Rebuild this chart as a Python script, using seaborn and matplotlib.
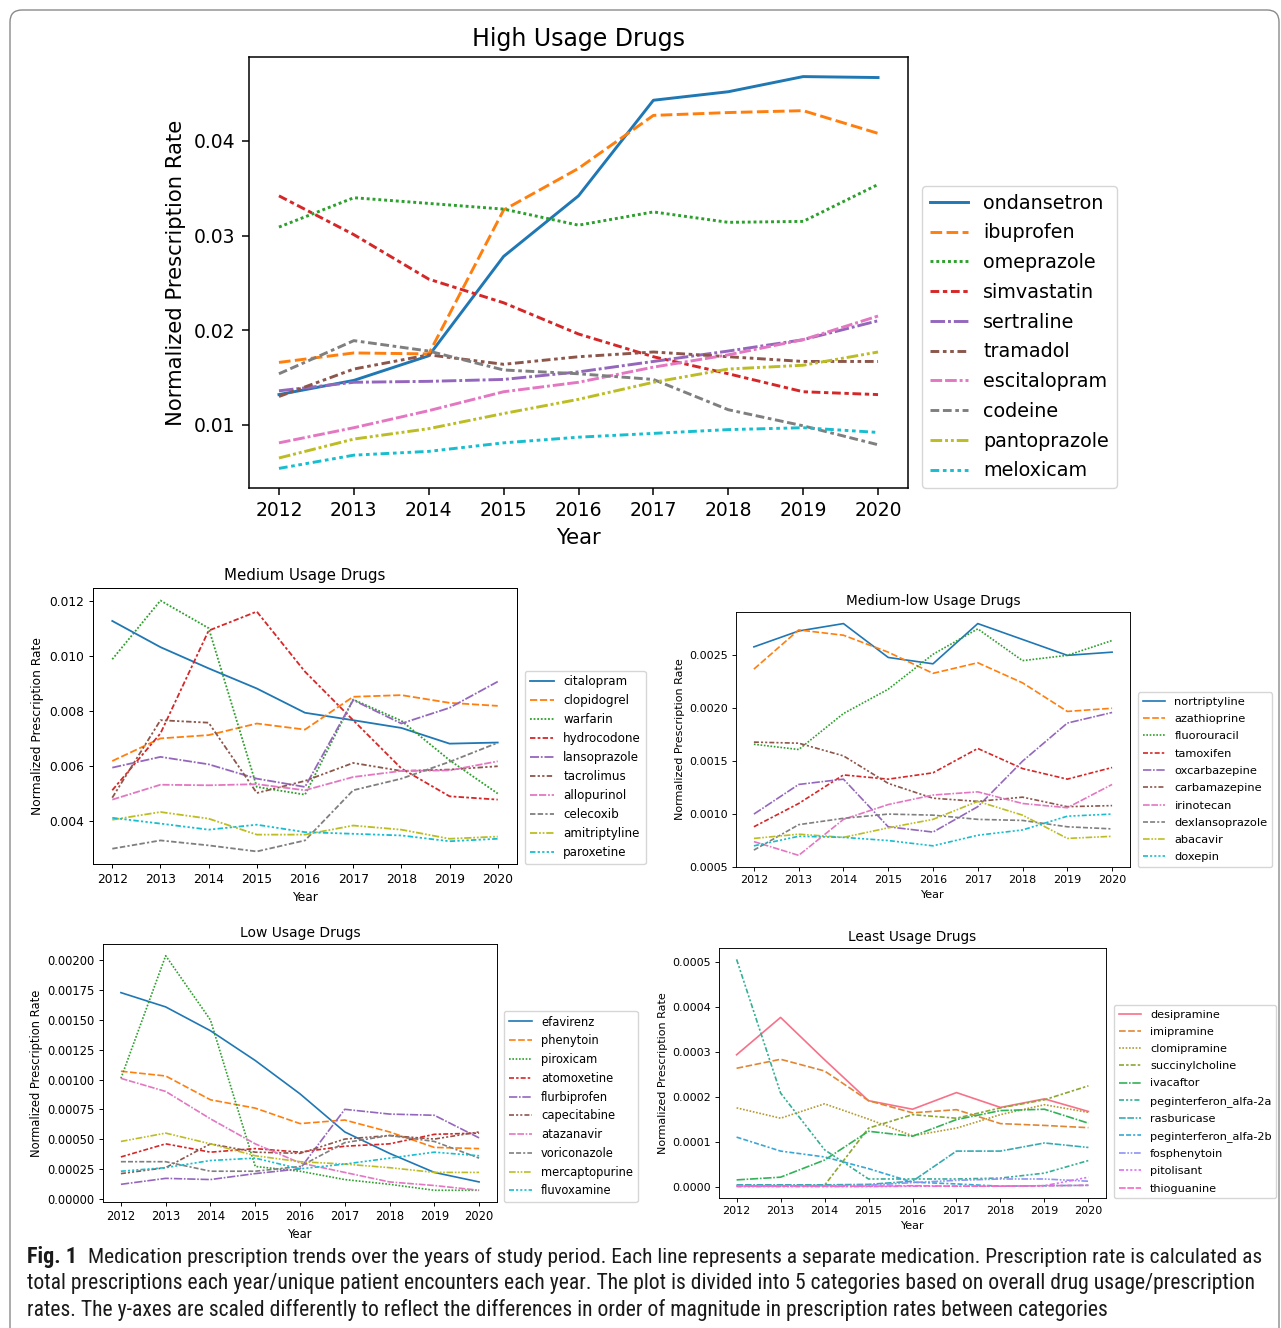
#Figure 1: prescription trends for five usage groups, drawn with seaborn line plots
import pandas as pd
import matplotlib
matplotlib.use("Agg")
from matplotlib import pyplot as plt
from matplotlib.patches import FancyBboxPatch
from matplotlib import font_manager
import seaborn as sns

#years on the x axis
years = [2012, 2013, 2014, 2015, 2016, 2017, 2018, 2019, 2020]

#high usage drugs
high_drugs = ['ondansetron', 'ibuprofen', 'omeprazole', 'simvastatin', 'sertraline',
              'tramadol', 'escitalopram', 'codeine', 'pantoprazole', 'meloxicam']
high_rates = [
    [0.0132, 0.0147, 0.0173, 0.0278, 0.0342, 0.0443, 0.0452, 0.0468, 0.0467],
    [0.0166, 0.0176, 0.0175, 0.0327, 0.0371, 0.0427, 0.0430, 0.0432, 0.0408],
    [0.0309, 0.0340, 0.0334, 0.0328, 0.0311, 0.0325, 0.0314, 0.0315, 0.0354],
    [0.0342, 0.0301, 0.0254, 0.0229, 0.0196, 0.0172, 0.0154, 0.0135, 0.0132],
    [0.0136, 0.0145, 0.0146, 0.0148, 0.0156, 0.0167, 0.0178, 0.0190, 0.0210],
    [0.0130, 0.0159, 0.0174, 0.0164, 0.0172, 0.0177, 0.0172, 0.0167, 0.0167],
    [0.0081, 0.0097, 0.0115, 0.0135, 0.0145, 0.0161, 0.0174, 0.0190, 0.0215],
    [0.0154, 0.0189, 0.0178, 0.0158, 0.0154, 0.0148, 0.0116, 0.0099, 0.0079],
    [0.0065, 0.0085, 0.0096, 0.0112, 0.0127, 0.0145, 0.0159, 0.0163, 0.0177],
    [0.0054, 0.0068, 0.0072, 0.0081, 0.0087, 0.0091, 0.0095, 0.0097, 0.0092],
]

#medium usage drugs
medium_drugs = ['citalopram', 'clopidogrel', 'warfarin', 'hydrocodone', 'lansoprazole',
                'tacrolimus', 'allopurinol', 'celecoxib', 'amitriptyline', 'paroxetine']
medium_rates = [
    [0.01127, 0.01032, 0.00955, 0.00882, 0.00794, 0.00767, 0.00739, 0.00682, 0.00686],
    [0.00619, 0.00701, 0.00713, 0.00755, 0.00733, 0.00852, 0.00858, 0.00830, 0.00819],
    [0.00988, 0.01201, 0.01101, 0.00525, 0.00497, 0.00842, 0.00765, 0.00622, 0.00501],
    [0.00513, 0.00719, 0.01092, 0.01161, 0.00943, 0.00767, 0.00592, 0.00491, 0.00479],
    [0.00595, 0.00634, 0.00607, 0.00555, 0.00525, 0.00840, 0.00755, 0.00812, 0.00907],
    [0.00486, 0.00767, 0.00758, 0.00503, 0.00547, 0.00612, 0.00583, 0.00588, 0.00600],
    [0.00479, 0.00533, 0.00531, 0.00535, 0.00513, 0.00561, 0.00583, 0.00585, 0.00618],
    [0.00301, 0.00331, 0.00313, 0.00291, 0.00331, 0.00513, 0.00555, 0.00616, 0.00685],
    [0.00406, 0.00434, 0.00410, 0.00352, 0.00352, 0.00385, 0.00370, 0.00337, 0.00345],
    [0.00413, 0.00392, 0.00370, 0.00388, 0.00361, 0.00355, 0.00349, 0.00328, 0.00337],
]

#medium-low usage drugs
medlow_drugs = ['nortriptyline', 'azathioprine', 'fluorouracil', 'tamoxifen', 'oxcarbazepine',
                'carbamazepine', 'irinotecan', 'dexlansoprazole', 'abacavir', 'doxepin']
medlow_rates = [
    [0.00258, 0.00273, 0.00280, 0.00248, 0.00242, 0.00280, 0.00265, 0.00250, 0.00253],
    [0.00237, 0.00274, 0.00269, 0.00253, 0.00233, 0.00243, 0.00224, 0.00197, 0.00200],
    [0.00166, 0.00161, 0.00195, 0.00218, 0.00251, 0.00275, 0.00245, 0.00250, 0.00264],
    [0.00088, 0.00110, 0.00137, 0.00133, 0.00139, 0.00162, 0.00143, 0.00133, 0.00144],
    [0.00100, 0.00128, 0.00133, 0.00088, 0.00083, 0.00107, 0.00150, 0.00186, 0.00196],
    [0.00168, 0.00167, 0.00155, 0.00129, 0.00115, 0.00112, 0.00116, 0.00107, 0.00108],
    [0.00074, 0.00061, 0.00095, 0.00109, 0.00118, 0.00121, 0.00110, 0.00106, 0.00128],
    [0.00066, 0.00090, 0.00096, 0.00100, 0.00099, 0.00095, 0.00094, 0.00088, 0.00086],
    [0.00077, 0.00081, 0.00078, 0.00087, 0.00095, 0.00112, 0.00099, 0.00077, 0.00079],
    [0.00070, 0.00079, 0.00078, 0.00075, 0.00070, 0.00080, 0.00085, 0.00098, 0.00100],
]

#low usage drugs
low_drugs = ['efavirenz', 'phenytoin', 'piroxicam', 'atomoxetine', 'flurbiprofen',
             'capecitabine', 'atazanavir', 'voriconazole', 'mercaptopurine', 'fluvoxamine']
low_rates = [
    [0.00173, 0.00161, 0.00141, 0.00116, 0.00088, 0.00056, 0.00038, 0.00022, 0.00014],
    [0.00107, 0.00103, 0.00083, 0.00076, 0.00063, 0.00066, 0.00056, 0.00043, 0.00042],
    [0.00101, 0.00204, 0.00150, 0.00027, 0.00023, 0.00016, 0.00012, 0.00007, 0.00007],
    [0.00035, 0.00046, 0.00039, 0.00042, 0.00039, 0.00044, 0.00046, 0.00054, 0.00055],
    [0.00012, 0.00017, 0.00016, 0.00021, 0.00025, 0.00075, 0.00071, 0.00070, 0.00051],
    [0.00021, 0.00026, 0.00046, 0.00039, 0.00038, 0.00050, 0.00053, 0.00050, 0.00056],
    [0.00101, 0.00090, 0.00067, 0.00046, 0.00030, 0.00022, 0.00014, 0.00011, 0.00007],
    [0.00031, 0.00031, 0.00023, 0.00023, 0.00027, 0.00047, 0.00053, 0.00048, 0.00034],
    [0.00048, 0.00055, 0.00046, 0.00036, 0.00031, 0.00029, 0.00026, 0.00022, 0.00022],
    [0.00023, 0.00026, 0.00032, 0.00034, 0.00025, 0.00029, 0.00034, 0.00039, 0.00036],
]

#least usage drugs
least_drugs = ['desipramine', 'imipramine', 'clomipramine', 'succinylcholine', 'ivacaftor',
               'peginterferon_alfa-2a', 'rasburicase', 'peginterferon_alfa-2b',
               'fosphenytoin', 'pitolisant', 'thioguanine']
least_rates = [
    [0.000294, 0.000377, 0.000283, 0.000192, 0.000173, 0.000210, 0.000177, 0.000196, 0.000168],
    [0.000264, 0.000284, 0.000258, 0.000192, 0.000165, 0.000172, 0.000141, 0.000137, 0.000132],
    [0.000176, 0.000153, 0.000185, 0.000151, 0.000114, 0.000131, 0.000161, 0.000183, 0.000166],
    [0.000002, 0.000002, 0.000004, 0.000131, 0.000161, 0.000153, 0.000176, 0.000194, 0.000225],
    [0.000016, 0.000022, 0.000060, 0.000124, 0.000113, 0.000150, 0.000170, 0.000173, 0.000142],
    [0.000506, 0.000209, 0.000083, 0.000018, 0.000018, 0.000018, 0.000020, 0.000031, 0.000059],
    [0.000005, 0.000005, 0.000005, 0.000006, 0.000013, 0.000080, 0.000080, 0.000098, 0.000088],
    [0.000111, 0.000080, 0.000067, 0.000041, 0.000011, 0.000007, 0.000002, 0.000003, 0.000004],
    [0.000003, 0.000003, 0.000003, 0.000004, 0.000010, 0.000015, 0.000018, 0.000018, 0.000013],
    [0.000001, 0.000001, 0.000001, 0.000001, 0.000002, 0.000002, 0.000002, 0.000003, 0.000022],
    [0.000002, 0.000002, 0.000002, 0.000002, 0.000003, 0.000002, 0.000002, 0.000003, 0.000004],
]

#figure is laid out in pixels (dpi 100)
W, H = 1281, 1328
fig = plt.figure(figsize=(W / 100, H / 100), dpi=100)
plt.rcParams['font.family'] = ['DejaVu Sans']


def draw_panel(rect, legend_left, drugs, rates, title, yticks, fs, title_fs, leg_fs, lw, k,
               labelspacing=0.45, label_fs=None):
    """
    Draws one seaborn line plot (one line per drug) into an axes placed at rect = (x0, y0, x1, y1) in pixels,
    with the legend to the right of the axes, bottom aligned.
    """
    if label_fs is None:
        label_fs = fs
    x0, y0, x1, y1 = rect
    ax = fig.add_axes([x0 / W, 1 - y1 / H, (x1 - x0) / W, (y1 - y0) / H])
    df = pd.DataFrame(rates, index=drugs, columns=years).reset_index(names='Drug')
    df = df.melt(id_vars='Drug', var_name='Year', value_name='Rate')
    df['Year'] = df['Year'].astype(int)
    sns.lineplot(data=df, x='Year', y='Rate', hue='Drug', style='Drug', linewidth=lw, ax=ax)

    ax.set_xticks(years)
    ax.set_yticks(yticks)
    ax.set_title(title, fontsize=title_fs, pad=6 * k)
    ax.set_xlabel('Year', fontsize=label_fs, labelpad=4 * k)
    ax.set_ylabel('Normalized Prescription Rate', fontsize=label_fs, labelpad=4 * k)
    ax.tick_params(labelsize=fs, length=3.5 * k, width=0.8 * k, pad=3.5 * k)
    for s in ax.spines.values():
        s.set_linewidth(0.8 * k)

    old = ax.get_legend()
    handles = old.legend_handles
    labels = [t.get_text() for t in old.get_texts()]
    old.remove()
    leg = ax.legend(handles, labels, loc='lower left', bbox_to_anchor=((legend_left - x0) / (x1 - x0), 0),
                    borderaxespad=0, fontsize=leg_fs, labelspacing=labelspacing)
    for line in leg.get_lines():
        line.set_linewidth(lw)
    return ax


draw_panel((249, 57, 908, 488), 922, high_drugs, high_rates, 'High Usage Drugs',
           [0.01, 0.02, 0.03, 0.04], 13.5, 17.0, 13.8, 2.1, 1.37, labelspacing=0.56, label_fs=15.2)
draw_panel((93, 588, 517, 864), 525, medium_drugs, medium_rates, 'Medium Usage Drugs',
           [0.004, 0.006, 0.008, 0.010, 0.012], 8.8, 10.8, 8.6, 1.3, 0.9, labelspacing=0.5)
draw_panel((736, 612, 1130, 867), 1138, medlow_drugs, medlow_rates, 'Medium-low Usage Drugs',
           [0.0005, 0.0010, 0.0015, 0.0020, 0.0025], 8.0, 9.8, 8.2, 1.2, 0.82, labelspacing=0.64)
draw_panel((103, 944, 497, 1202), 504, low_drugs, low_rates, 'Low Usage Drugs',
           [0, 0.00025, 0.0005, 0.00075, 0.001, 0.00125, 0.0015, 0.00175, 0.002], 8.3, 10.0, 8.3, 1.2, 0.85,
           labelspacing=0.5)
draw_panel((719, 948, 1106, 1198), 1114, least_drugs, least_rates, 'Least Usage Drugs',
           [0, 0.0001, 0.0002, 0.0003, 0.0004, 0.0005], 8.0, 9.8, 8.1, 1.2, 0.82, labelspacing=0.64)

#rounded frame around the figure (bottom edge falls outside the canvas)
frame = FancyBboxPatch((0.10, -0.3), 12.69, 13.48, boxstyle='round,pad=0,rounding_size=0.12',
                       transform=fig.dpi_scale_trans, facecolor='none', edgecolor='#8a8a8a', linewidth=1.0)
fig.patches.append(frame)

#caption, font size fitted so each full line spans the text width
available = {f.name for f in font_manager.fontManager.ttflist}
cap_font = next(f for f in ['Liberation Sans Narrow', 'Roboto Condensed', 'Liberation Sans', 'DejaVu Sans']
                if f in available)
cap_lines = [
    'Medication prescription trends over the years of study period. Each line represents a separate medication. Prescription rate is calculated as',
    'total prescriptions each year/unique patient encounters each year. The plot is divided into 5 categories based on overall drug usage/prescription',
    'rates. The y-axes are scaled differently to reflect the differences in order of magnitude in prescription rates between categories',
]
cap_y = [1257, 1284, 1310]
renderer = fig.canvas.get_renderer()


def fit_size(text, width):
    probe = fig.text(0, 0, text, fontsize=12, family=cap_font)
    size = 12 * width / probe.get_window_extent(renderer).width
    probe.remove()
    return size


fs_line2 = fit_size(cap_lines[1], 1253 - 27)
fs_line1 = fit_size(cap_lines[0], 1258 - 88)

fig.text(27 / W, 1 - cap_y[0] / H, 'Fig. 1', fontsize=fs_line2 * 1.02, family=cap_font, weight='bold',
         va='center', ha='left', color='#1a1a1a')
fig.text(88 / W, 1 - cap_y[0] / H, cap_lines[0], fontsize=fs_line1, family=cap_font,
         va='center', ha='left', color='#1a1a1a')
fig.text(27 / W, 1 - cap_y[1] / H, cap_lines[1], fontsize=fs_line2, family=cap_font,
         va='center', ha='left', color='#1a1a1a')
fig.text(27 / W, 1 - cap_y[2] / H, cap_lines[2], fontsize=fs_line2, family=cap_font,
         va='center', ha='left', color='#1a1a1a')

fig.savefig('out.png', dpi=100)
